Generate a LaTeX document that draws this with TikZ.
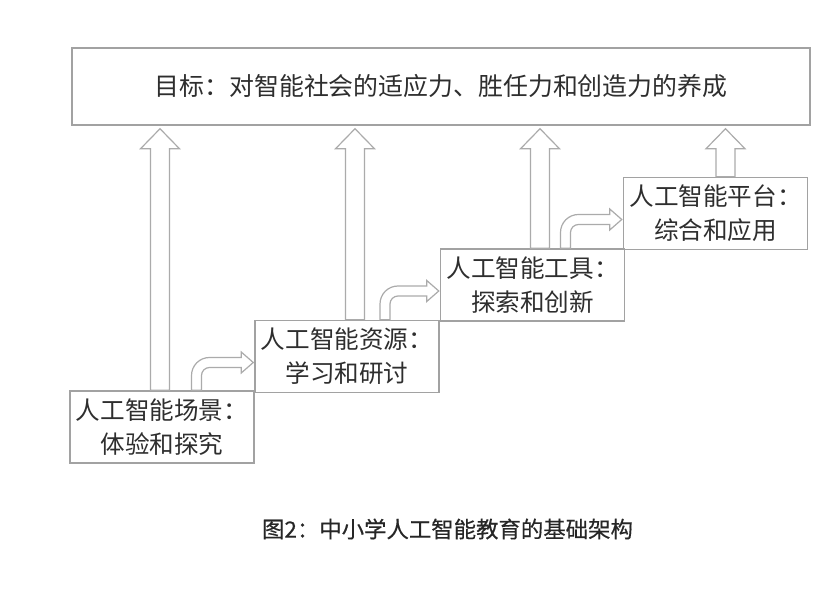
\documentclass[tikz,border=0pt]{standalone}
\usepackage{fontspec}
\setmainfont{Noto Sans CJK SC}
\newfontfamily\captionfont[FakeBold=0.4]{Noto Sans CJK SC}
\usetikzlibrary{calc}
\definecolor{boxgray}{HTML}{A2A2A2}
\definecolor{arrowgray}{HTML}{ABABAB}
\definecolor{textgray}{HTML}{2E2E2E}
\tikzset{
	stage/.style={draw=boxgray, line width=0.75pt, minimum width=92pt, minimum height=36pt, inner sep=0pt, align=center, text=textgray, font=\fontsize{12.3}{17}\selectfont},
	hollow/.style={draw=arrowgray, fill=white, line width=0.6pt, line join=miter},
}
\def\riseArrow(#1)(#2){\draw[hollow] let \p1=(#1), \p2=(#2) in (\x1-4.75pt,\y1) -- (\x1-4.75pt,\y2-11.5pt) -- (\x1-9.75pt,\y2-11.5pt) -- (\x1,\y2-1.5pt) -- (\x1+9.75pt,\y2-11.5pt) -- (\x1+4.75pt,\y2-11.5pt) -- (\x1+4.75pt,\y1) -- cycle;}
\def\bendArrow(#1)(#2){\draw[hollow] let \p1=(#1), \p2=(#2) in (\x1-2.5pt,\y1) -- (\x1-2.5pt,\y2-6.5pt) arc (180:90:9pt) -- (\x2-6pt,\y2+2.5pt) -- (\x2-6pt,\y2+5.25pt) -- (\x2,\y2) -- (\x2-6pt,\y2-5.25pt) -- (\x2-6pt,\y2-2.5pt) -- (\x1+6.5pt,\y2-2.5pt) arc (90:180:4pt) -- (\x1+2.5pt,\y1) -- cycle;}

\begin{document}
\begin{tikzpicture}[x=1pt, y=1pt]
		%%%%% START %%%%%
		\useasboundingbox[fill=white] (0, 0) rectangle (420, 297);
		
		\node[stage, minimum width=369pt, minimum height=38.5pt, font=\fontsize{12.45}{15}\selectfont] (goal) at (220.5, 253.75) {目标：对智能社会的适应力、胜任力和创造力的养成};
		
		\node[stage] (s1) at (81, 83.5) {人工智能场景：\\体验和探究};
		\node[stage] (s2) at (173.5, 118.75) {人工智能资源：\\学习和研讨};
		\node[stage] (s3) at (266.25, 154.5) {人工智能工具：\\探索和创新};
		\node[stage] (s4) at (357.75, 190.25) {人工智能平台：\\综合和应用};
		
		\coordinate (a1) at ($(s1.north)+(-1, 0)$);
		\coordinate (a2) at ($(s2.north)+(4, 0)$);
		\coordinate (a3) at ($(s3.north)+(3.75, 0)$);
		\coordinate (a4) at ($(s4.north)+(5, 0)$);
		\riseArrow(a1)(goal.south -| a1);
		\riseArrow(a2)(goal.south -| a2);
		\riseArrow(a3)(goal.south -| a3);
		\riseArrow(a4)(goal.south -| a4);
		
		\coordinate (b1) at ($(s1.north)+(17.25, 0)$);
		\coordinate (t1) at ($(s2.west)+(-0.5, -3)$);
		\coordinate (b2) at ($(s2.north)+(19, 0)$);
		\coordinate (t2) at ($(s3.west)+(-0.5, -3)$);
		\coordinate (b3) at ($(s3.north)+(16.5, 0)$);
		\coordinate (t3) at ($(s4.west)+(-0.5, -3)$);
		\bendArrow(b1)(t1);
		\bendArrow(b2)(t2);
		\bendArrow(b3)(t3);
		
		\node[text=black!85, font=\captionfont\fontsize{11.2}{13}\selectfont] (caption) at (223.75, 32.5) {图2：中小学人工智能教育的基础架构};
		%%%%% END %%%%%
	\end{tikzpicture}
\end{document}
